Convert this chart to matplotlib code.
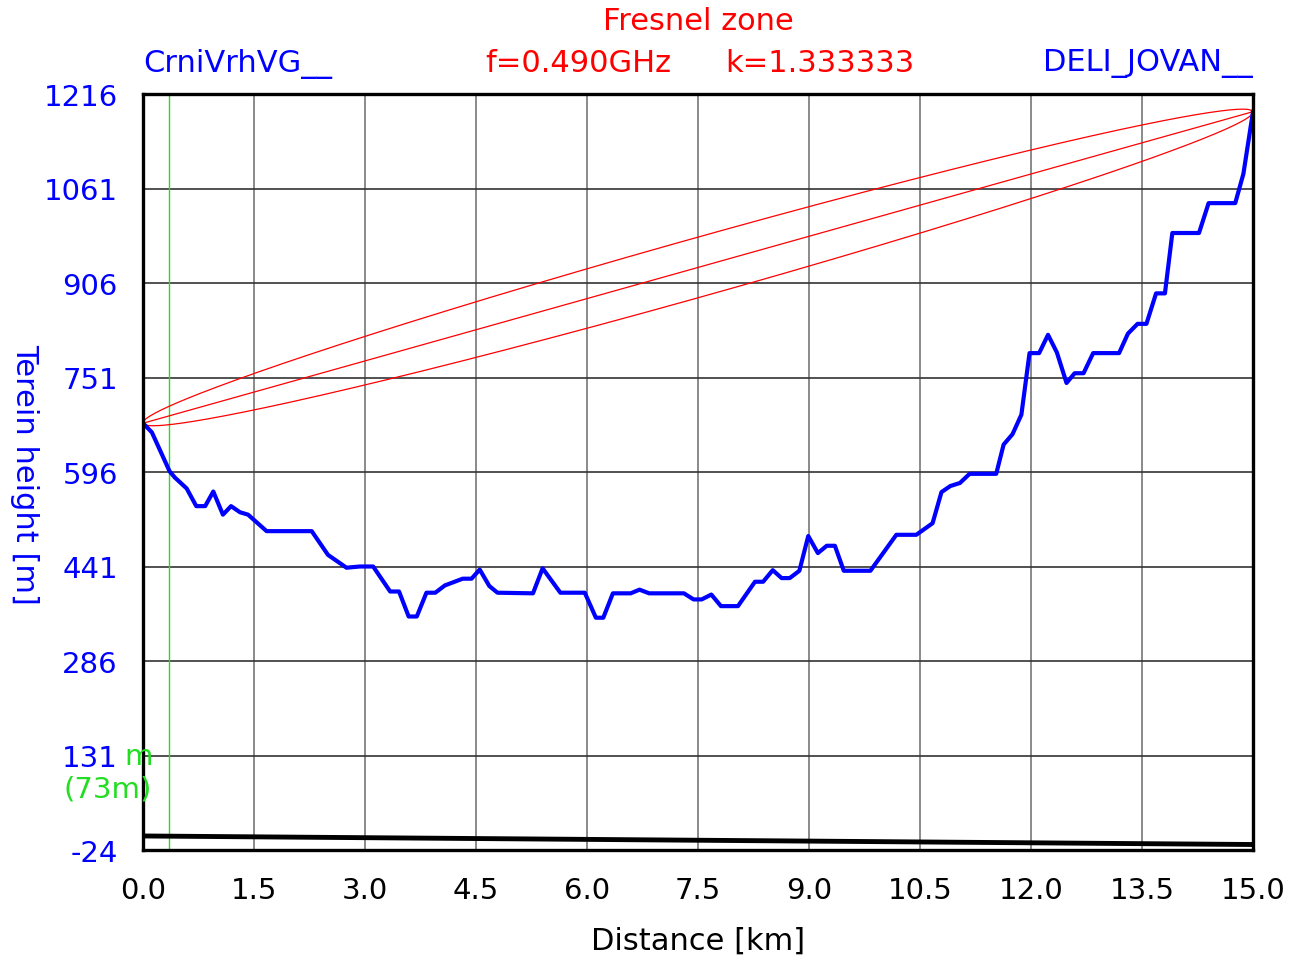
import numpy as np
import matplotlib
matplotlib.use('Agg')
import matplotlib.pyplot as plt

# terrain profile
distance_km = [0.00, 0.12, 0.36, 0.43, 0.59, 0.72, 0.84, 0.95, 1.08, 1.19, 1.31, 1.42,
               1.67, 2.28, 2.50, 2.75, 2.93, 3.11, 3.34, 3.46, 3.59, 3.70, 3.83, 3.95,
               4.08, 4.19, 4.32, 4.44, 4.55, 4.68, 4.79, 5.27, 5.40, 5.64, 5.97, 6.12,
               6.22, 6.35, 6.59, 6.71, 6.84, 7.31, 7.44, 7.55, 7.68, 7.81, 8.04, 8.27,
               8.38, 8.51, 8.63, 8.74, 8.87, 8.99, 9.12, 9.24, 9.35, 9.47, 9.83, 10.18,
               10.45, 10.67, 10.79, 10.91, 11.04, 11.17, 11.53, 11.63, 11.75, 11.87, 11.98,
               12.11, 12.23, 12.35, 12.48, 12.59, 12.71, 12.84, 13.19, 13.31, 13.44, 13.56,
               13.69, 13.81, 13.91, 14.27, 14.40, 14.76, 14.87, 15.00]
height_m = [676, 661, 597, 587, 569, 540, 540, 564, 526, 540, 530, 526,
            499, 499, 460, 439, 441, 441, 400, 400, 359, 359, 398, 398,
            410, 415, 421, 421, 436, 409, 398, 397, 438, 398, 398, 357,
            357, 397, 397, 403, 397, 397, 387, 387, 395, 376, 376, 416,
            416, 435, 422, 422, 434, 491, 463, 475, 475, 434, 434, 493,
            493, 512, 563, 573, 578, 593, 593, 641, 658, 690, 791,
            791, 821, 792, 742, 758, 758, 791, 791, 823, 839, 839,
            889, 889, 988, 988, 1037, 1037, 1085, 1187]

# reference (sea level) line at the bottom
ground_x = [0.0, 15.0]
ground_y = [-1.0, -15.0]

# line of sight end points and radio data
los_x = [0.0, 15.0]
los_y = [676.0, 1187.0]
freq_ghz = 0.490
marker_km = 0.35

x_ticks = [0.0, 1.5, 3.0, 4.5, 6.0, 7.5, 9.0, 10.5, 12.0, 13.5, 15.0]
y_ticks = [-24, 131, 286, 441, 596, 751, 906, 1061, 1216]

W, H = 1303, 962
fig = plt.figure(figsize=(W / 100, H / 100), dpi=100)
ax = fig.add_axes([143 / W, 1 - 851 / H, (1253 - 143) / W, (851 - 95) / H])
ax.set_xlim(0, 15)
ax.set_ylim(-24, 1216)

for v in x_ticks:
    ax.axvline(v, color='#777777', lw=1.2, zorder=1)
for v in y_ticks:
    ax.axhline(v, color='#333333', lw=1.2, zorder=1)

ax.axvline(marker_km, color='#22dd22', lw=1.0, zorder=2)

ax.plot(ground_x, ground_y, color='black', lw=3.5, zorder=3, solid_capstyle='butt')

# first Fresnel zone, offset perpendicular to the LOS on screen
bb = ax.get_window_extent()
sx = bb.width / 15.0
sy = bb.height / 1240.0
D = los_x[1] - los_x[0]
s = np.linspace(0, 1, 400)
lx = los_x[0] + s * D
ly = los_y[0] + s * (los_y[1] - los_y[0])
d1 = s * D
r = 17.32 * np.sqrt(d1 * (D - d1) / (freq_ghz * D))
vx, vy = D * sx, (los_y[1] - los_y[0]) * sy
n = np.hypot(vx, vy)
nx_, ny_ = -vy / n, vx / n
rp = r * sy
ax.plot(lx, ly, color='red', lw=0.9, zorder=4)
ax.plot(lx + nx_ * rp / sx, ly + ny_ * rp / sy, color='red', lw=0.9, zorder=4)
ax.plot(lx - nx_ * rp / sx, ly - ny_ * rp / sy, color='red', lw=0.9, zorder=4)

ax.plot(distance_km, height_m, color='#0000ff', lw=3, zorder=5)

for sp in ax.spines.values():
    sp.set_linewidth(2.4)
    sp.set_color('black')
    sp.set_zorder(6)

ax.set_xticks(x_ticks)
ax.set_xticklabels([f'{v:.1f}' for v in x_ticks])
ax.set_yticks(y_ticks)
ax.set_yticklabels([str(v) for v in y_ticks])
ax.tick_params(axis='both', length=0, labelsize=21)
ax.tick_params(axis='x', pad=19, colors='black')
ax.tick_params(axis='y', pad=18, labelcolor='#0000ff')

def ft(px, py, txt, **kw):
    fig.text(px / W, 1 - py / H, txt, **kw)

ft(698, 21, 'Fresnel zone', color='#ff0000', fontsize=22, ha='center', va='center')
ft(143, 64, 'CrniVrhVG__', color='#0000ff', fontsize=22, ha='left', va='center')
ft(485, 64, 'f=0.490GHz', color='#ff0000', fontsize=22, ha='left', va='center')
ft(725, 64, 'k=1.333333', color='#ff0000', fontsize=22, ha='left', va='center')
ft(1253, 64, 'DELI_JOVAN__', color='#0000ff', fontsize=22, ha='right', va='center')
ft(698, 941, 'Distance [km]', color='black', fontsize=22, ha='center', va='center')
ft(25, 474, 'Terein height [m]', color='#0000ff', fontsize=22, ha='center', va='center',
   rotation=-90)
ft(124, 757, 'm', color='#22dd22', fontsize=21, ha='left', va='center')
ft(152, 790, '(73m)', color='#22dd22', fontsize=21, ha='right', va='center')

fig.savefig('out.png', dpi=100)
